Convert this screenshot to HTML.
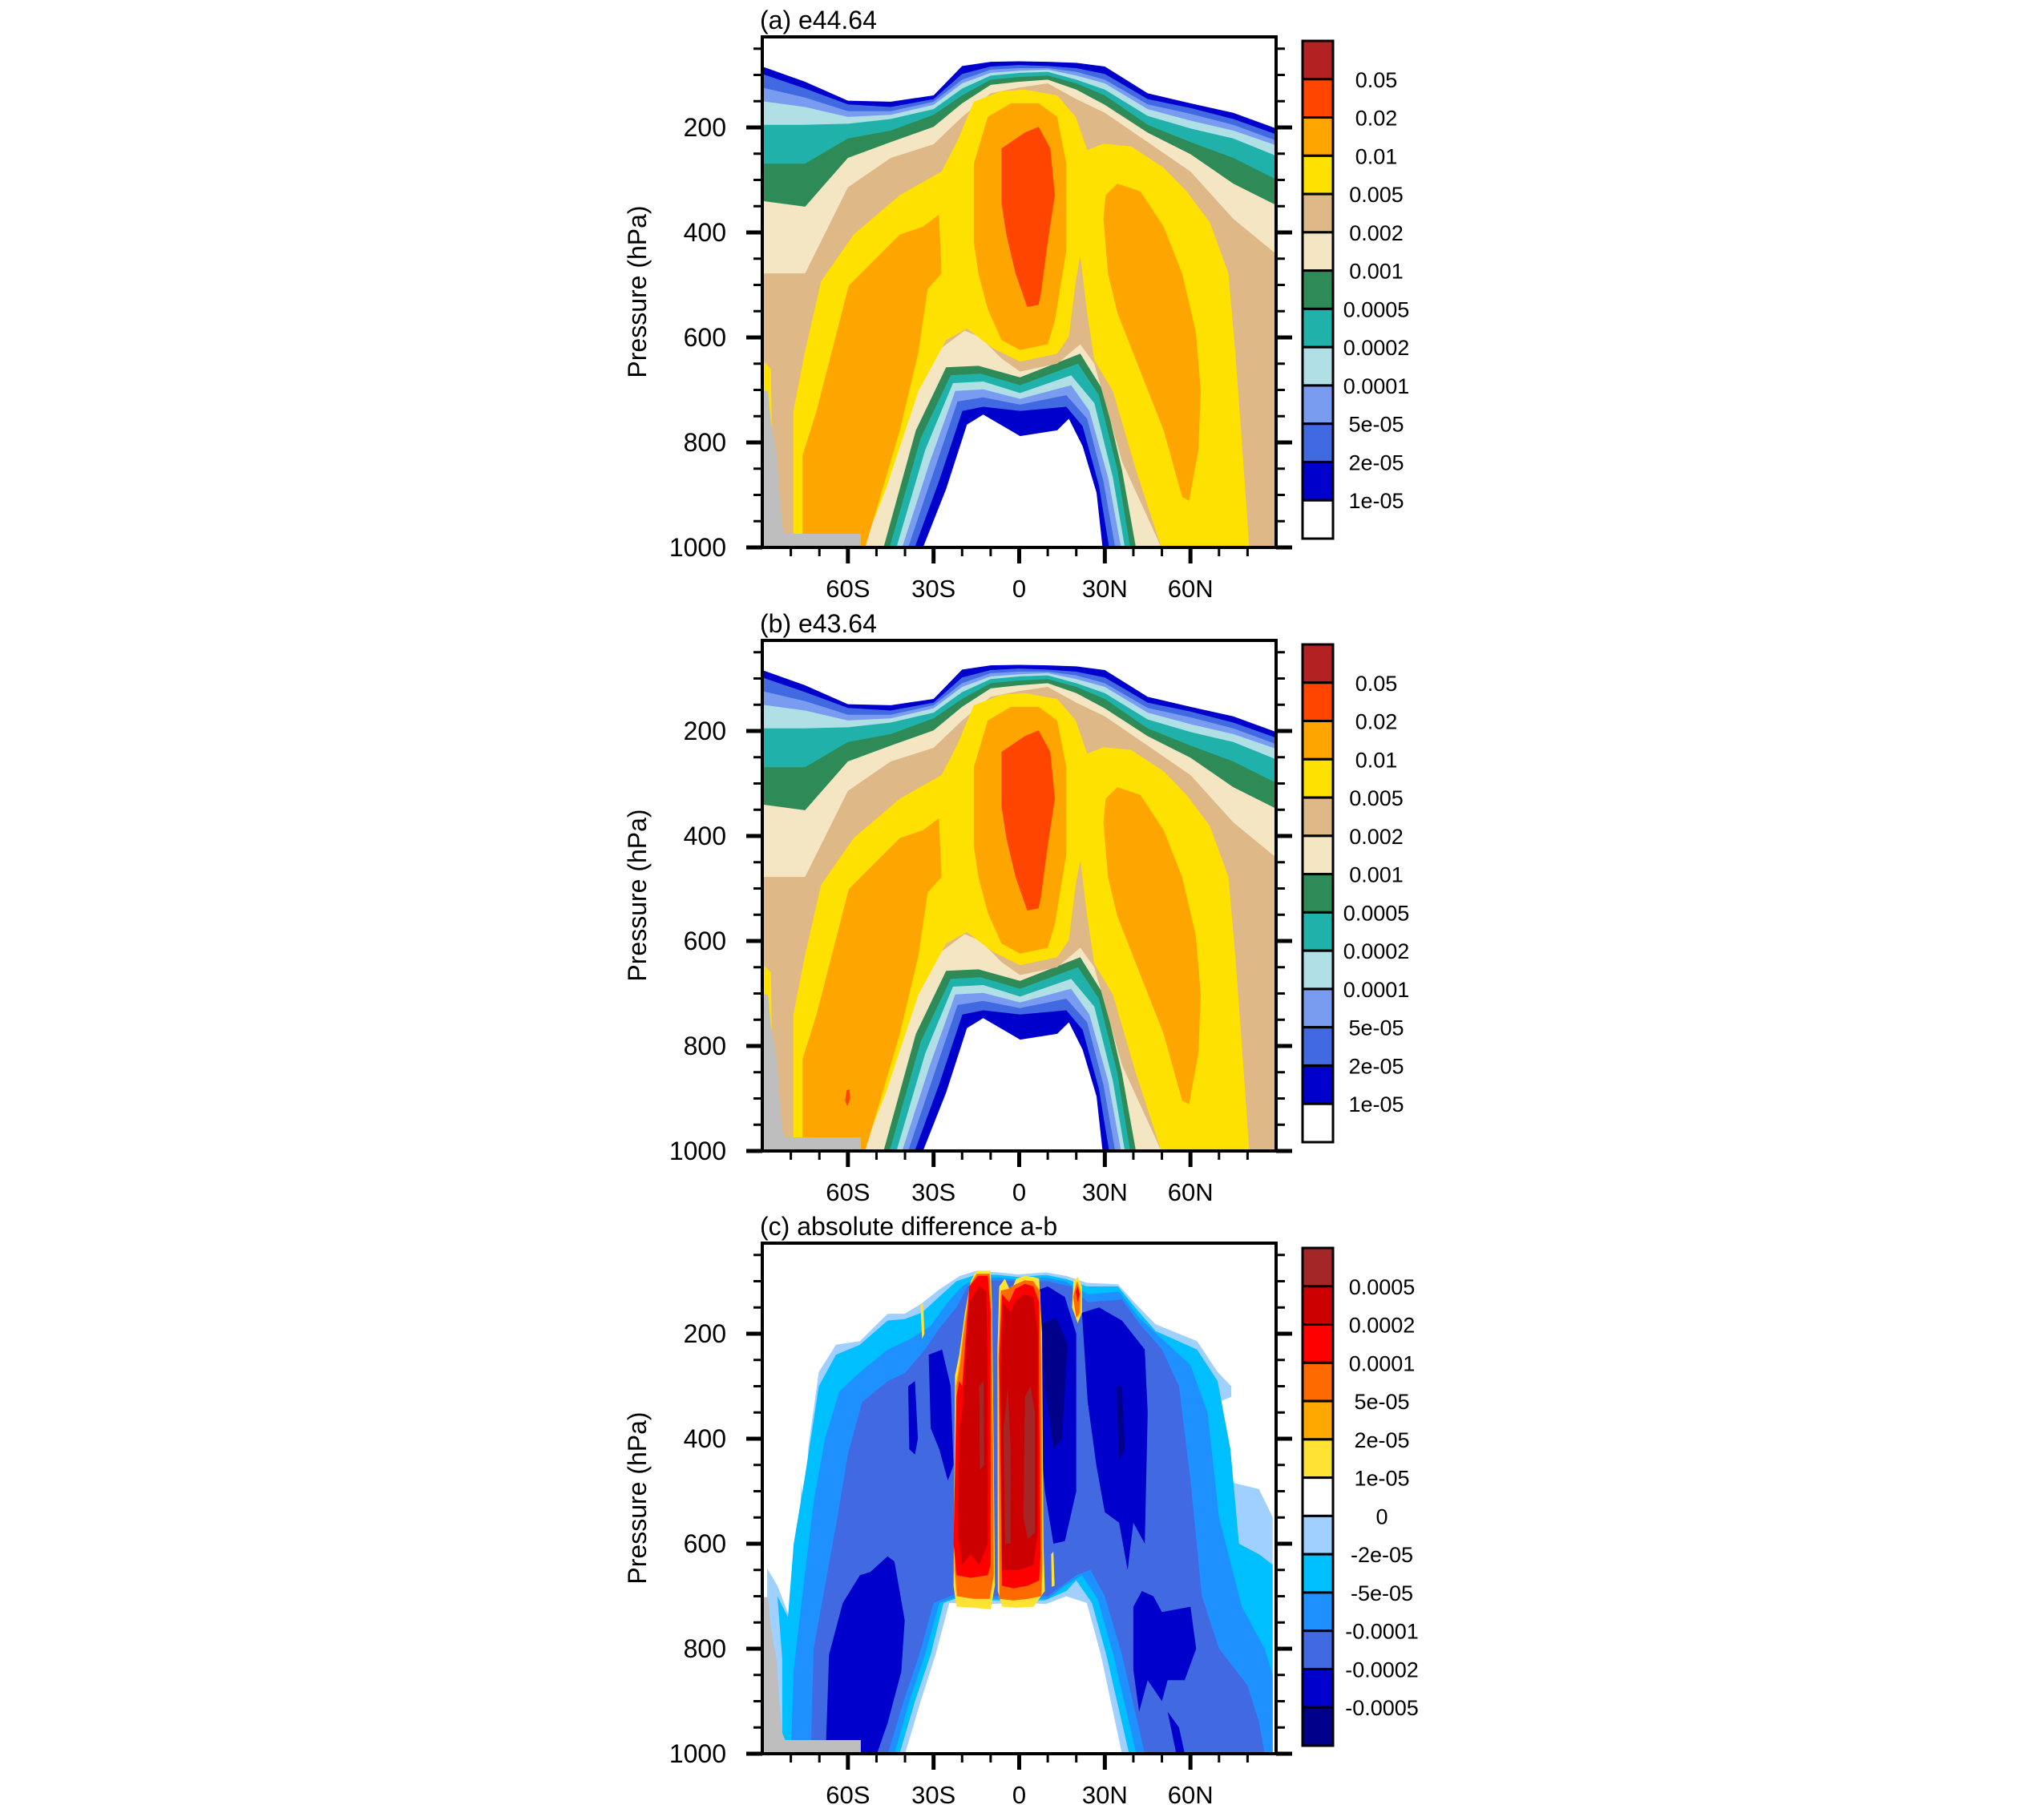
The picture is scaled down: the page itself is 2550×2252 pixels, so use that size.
<!DOCTYPE html>
<html><head><meta charset="utf-8"><style>
html,body{margin:0;padding:0;background:#fff;}
svg{display:block;font-family:"Liberation Sans",Arial,sans-serif;}
</style></head><body>
<svg id="fig" width="2550" height="2252" viewBox="0 0 2550 2252" xmlns="http://www.w3.org/2000/svg"></svg>
<script>
// ---------- data ----------
const latTicks = [-60,-30,0,30,60];
const latTickLabels = ["60S","30S","0","30N","60N"];
const pTicks = [200,400,600,800,1000];
const pTickLabels = ["200","400","600","800","1000"];
const topLats = [-90,-75,-60,-45,-30,-20,-10,0,10,20,30,45,60,75,90];
// upper boundary pressure of each level (1e-5 ... 2e-3)
const topL1 = [84,113,149,151,139,83,75,74,75,77,84,135,154,172,202];
const topL2 = [98,126,156,161,146,98,84,81,83,87,98,146,163,184,213];
const topL3 = [124,143,169,169,151,109,90,87,87,94,109,156,174,195,225];
const topL4 = [150,161,180,176,157,116,96,92,90,101,116,165,187,206,234];
const topL5 = [195,195,193,184,165,126,101,96,94,109,128,178,202,221,254];
const topL6 = [269,269,221,206,176,139,109,104,101,116,139,195,228,258,299];
const topL7 = [340,351,258,228,199,154,119,113,109,128,157,210,251,307,348];
const topL8 = [478,478,314,258,232,180,135,124,116,146,172,228,284,374,441];
// lower (tropical bowl) boundaries [lat,p]
const bowl1 = [[-33.7,1000],[-25.6,889],[-18.3,766],[-12.6,747],[0.3,788],[13.3,777],[17.4,755],[22.2,807],[27.1,896],[29.2,1000]];
const bowl2 = [[-36.6,1000],[-28.1,874],[-19.9,740],[-12.6,732],[0.3,740],[16.5,732],[22.2,769],[27.9,881],[31.5,1000]];
const bowl3 = [[-38.9,1000],[-29.7,852],[-21.6,722],[-12.6,714],[0.3,728],[16.5,710],[23.8,755],[29.5,874],[33.6,1000]];
const bowl4 = [[-41,1000],[-31.3,837],[-22.4,702],[-12.6,699],[0.3,717],[18.2,691],[24.6,740],[31.1,866],[35.7,1000]];
const bowl5 = [[-43,1000],[-32.9,814],[-23.2,687],[-12.6,684],[0.3,706],[18.2,672],[26.3,725],[32.8,866],[37,1000]];
const bowl6 = [[-45.4,1000],[-34.5,792],[-24,672],[-13.5,669],[0.3,691],[20.6,650],[27.9,710],[34.4,852],[38.9,1000]];
const bowl7 = [[-47.5,1000],[-36.2,777],[-25.6,657],[-14.3,654],[0.3,676],[21.4,631],[29.5,702],[36,852],[40.9,1000]];
const bowl8 = [[-54,1000],[-40.2,747],[-27.2,620],[-19.1,587],[-13.5,600],[-6.2,640],[0.3,665],[13.3,650],[21.4,613],[26.3,650],[36,836],[49.8,1000]];
const yellowOuter = [[-79.1,1000],[-79.1,740],[-75.1,628],[-69.4,493],[-58,404],[-41.8,329],[-27.2,284],[-21.6,225],[-15.9,151],[-6.2,131],[1.9,128],[13.3,139],[19.8,180],[23.8,243],[29.5,231],[39.2,236],[50.6,277],[58.7,322],[66.8,381],[73.3,478],[75.7,628],[78.2,814],[80.6,1000]];
const yellowBowl = [[49.8,1000],[40.9,852],[32.8,702],[26.3,643],[23.8,553],[21.4,445],[19.8,493],[17.4,598],[13.3,631],[0.3,646],[-9.4,620],[-18.3,583],[-25.6,605],[-35.3,702],[-46.7,889],[-54.8,1000]];
const yellowStrip = [[-90,643],[-87,660],[-86,1000],[-90,1000]];
const orangeLeft = [[-75.9,1000],[-75.9,825],[-71,740],[-59.7,501],[-41.8,404],[-33.7,389],[-28.1,366],[-27.2,478],[-32.1,508],[-35.3,628],[-41.8,777],[-49.9,926],[-54,1000]];
const orangeMid = [[-15.9,419],[-15.9,269],[-11,180],[-2.9,154],[6.8,154],[13.3,180],[16.5,269],[16.5,434],[12.5,568],[10,613],[0.3,624],[-6.2,605],[-11,546],[-14.3,478]];
const orangeRight = [[29.5,374],[30.3,329],[34.4,307],[42.5,322],[50.6,389],[57.1,478],[61.9,590],[63.6,702],[62.8,814],[59.5,911],[57.1,904],[50.6,777],[42.5,665],[34.4,553],[31.1,478]];
const redMid = [[-6.2,344],[-6.2,240],[1.9,210],[6.8,199],[10.9,240],[12.5,329],[10,419],[7.6,516],[6.8,538],[2.8,542],[-1.3,478],[-4.5,404]];
const redSpotB = [[-61,905],[-60.5,885],[-59.5,882],[-59.2,900],[-60.2,915]];
const missing = [[-90,702],[-88,702],[-87,760],[-85,820],[-84,900],[-83,960],[-82,974],[-55.5,974],[-55.5,1000],[-90,1000]];
// panel c difference field regions
const cLight = [[-88.3,647],[-84.7,680],[-80,746],[-78,700],[-76.3,483],[-75.1,595],[-73.9,418],[-70.2,273],[-64.2,221],[-55.8,214],[-46.1,162],[-40.1,162],[-34.1,142],[-28.1,116],[-20.8,90],[-14.8,80],[-7.6,83],[-0.4,87],[9.3,83],[16.5,90],[23.7,103],[34.6,106],[40.6,142],[47.8,182],[62.3,214],[69.5,273],[74.3,300],[74.3,320],[70,330],[72,480],[84,496],[88.8,549],[88.8,1000],[36,1000],[28.6,811],[23.7,713],[16.5,700],[9.3,715],[0,712],[-10,715],[-24.5,713],[-29.3,811],[-34.5,900],[-40,1000],[-84,1000],[-86,900],[-88.3,800]];
const cSky = [[-84.7,700],[-81,740],[-79,600],[-75.1,473],[-70.2,300],[-64.2,240],[-55.8,221],[-46.1,175],[-40.1,172],[-34.1,160],[-28.1,130],[-22,100],[-14.8,87],[-7.6,88],[0,92],[9.3,88],[16.5,96],[23.7,110],[34.6,110],[40.6,150],[47.8,195],[62.3,230],[69.5,290],[74,420],[77,600],[84,620],[88.8,640],[88.8,1000],[38.5,1000],[30.5,811],[25.5,713],[20,670],[16.5,690],[9,708],[0,708],[-10,708],[-22.5,705],[-26.5,713],[-31,811],[-36.5,900],[-41.9,1000],[-83,1000],[-83,820]];
const cDodger = [[-80,1000],[-79,840],[-76,700],[-72,520],[-68,400],[-63,310],[-55,270],[-46,230],[-38,210],[-31,185],[-25,140],[-20,110],[-15,95],[-7,93],[0,97],[9,93],[16,100],[24,125],[35,120],[42,170],[50,210],[60,260],[66,350],[70,550],[78,720],[86,800],[88.8,850],[88.8,1000],[41,1000],[33,811],[27.5,705],[22,660],[16,680],[10,705],[0,705],[-10,705],[-21,700],[-28,713],[-33,811],[-38.5,900],[-43.7,1000]];
const cRoyal = [[-73,1000],[-72,800],[-68,680],[-64,560],[-60,430],[-55,330],[-46,290],[-40,275],[-33,230],[-28,190],[-22,150],[-18,110],[-12,98],[0,100],[10,100],[18,110],[24,140],[36,135],[42,180],[50,230],[56,300],[60,480],[64,700],[70,800],[80,870],[84,940],[86,1000],[44,1000],[36,811],[30,700],[25,650],[20,660],[10,700],[0,700],[-10,700],[-22,695],[-30,713],[-35,811],[-40.5,900],[-46,1000]];
const cMedium = [
 [[-67.8,998],[-66.6,811],[-61.8,713],[-55.8,660],[-52.2,654],[-46.1,624],[-43.7,634],[-40.1,746],[-41.3,844],[-46.1,942],[-49.7,998]],
 [[-38.9,300],[-36.5,290],[-35.5,400],[-36.5,430],[-38.5,420]],
 [[-31.7,240],[-27,230],[-24,300],[-23,450],[-25,480],[-28,420],[-31,380]],
 [[5,120],[10,110],[16,130],[20,200],[20,500],[16,595],[12,600],[9,500],[6,300]],
 [[22,160],[28,150],[36,175],[44,230],[45,350],[44,600],[40,560],[38,650],[35,560],[30,540],[27,450],[24,330]],
 [[40,720],[43,690],[47,700],[50,730],[60,720],[62,800],[58,860],[52,860],[50,900],[45,860],[42,920],[40,840]],
 [[52,920],[55,1000],[58,1000],[56,950]],
 [[-2.3,190],[-1.5,175],[-0.8,200],[-0.5,300],[-1.2,320],[-2,300]]
];
const cNavy = [
 [[8,180],[13,170],[17,220],[15,400],[12,420],[9,300]],
 [[34,300],[36,300],[37,420],[35,440]]
];
const cGold = [
 [[-22.5,280],[-21,240],[-20,200],[-19,160],[-17,100],[-15,80],[-10,80],[-9.5,150],[-9,400],[-8.5,680],[-10,725],[-16,722],[-22,720],[-23,680]],
 [[-7.6,230],[-7,110],[-5,95],[-3,120],[-1,95],[2,90],[5,92],[7,95],[8,200],[8.5,600],[9,690],[5,720],[-1,722],[-6,720],[-7.5,690]],
 [[18.5,150],[19,100],[20.5,92],[22,110],[22,160],[20.5,180]],
 [[-34.6,145],[-33.6,142],[-33.2,200],[-34,210]],
 [[11.2,620],[12,615],[12.4,680],[11.4,682]]
];
const cOrange = [
 [[-22.3,300],[-21,260],[-19.5,190],[-17.2,105],[-15,86],[-10.5,86],[-9.8,160],[-9.3,420],[-9,660],[-10.5,705],[-16,705],[-22,700],[-22.8,650]],
 [[-7.3,240],[-6.5,118],[-4,115],[-2,108],[2,98],[5,100],[7.4,120],[7.8,260],[8.2,640],[7.8,700],[3,705],[-2,708],[-7,705]],
 [[19.2,130],[20.5,100],[21.6,120],[21.4,160],[20.3,170]]
];
const cRed = [
 [[-22,320],[-21,290],[-20,300],[-17.5,110],[-14.5,90],[-11,90],[-10,160],[-10,640],[-11,660],[-17,665],[-22,660],[-23,600]],
 [[-7,250],[-6,125],[-3.5,140],[-1.5,115],[2,105],[5,110],[7,140],[7,300],[7.5,620],[7,670],[3,680],[-2,685],[-6,680]],
 [[19.8,120],[20.5,110],[21.2,125],[20.5,140]]
];
const cDarkRed = [
 [[-21,380],[-20,350],[-17.5,140],[-14,110],[-11.5,120],[-11,300],[-11,600],[-14,640],[-17,620],[-20,640],[-21.5,580]],
 [[-6.5,270],[-5.5,140],[-3,160],[-1.5,140],[1.5,125],[5,130],[6.5,200],[6.5,580],[5,640],[0,650],[-6,650]]
];
const cBrown = [
 [[-5.5,380],[-4,300],[-3,420],[-3,600],[-5,600]],
 [[2,320],[4,300],[5.5,350],[5.5,580],[3,590],[1.5,550]],
 [[-14,300],[-12.5,290],[-12.3,450],[-13.8,460]]
];
const cbarLabelsAB = ["0.05","0.02","0.01","0.005","0.002","0.001","0.0005","0.0002","0.0001","5e-05","2e-05","1e-05"];
const cbarColorsAB = ["#B22222","#FF4500","#FFA500","#FFE100","#DEB887","#F5E6C3","#2E8B57","#20B2AA","#B0E0E6","#7A9CF0","#4169E1","#0000CD","#FFFFFF"];
const cbarLabelsC = ["0.0005","0.0002","0.0001","5e-05","2e-05","1e-05","0","-2e-05","-5e-05","-0.0001","-0.0002","-0.0005"];
const cbarColorsC = ["#A52626","#CC0000","#FF0000","#FF6A00","#FFA800","#FFE233","#FFFFFF","#A0D0FF","#00BFFF","#1E90FF","#4169E1","#0000CD","#00008B"];

// ---------- drawing ----------
const NS="http://www.w3.org/2000/svg";
const svg=document.getElementById('fig');
function mk(tag,attrs,parent){const e=document.createElementNS(NS,tag);for(const k in attrs)e.setAttribute(k,attrs[k]);(parent||svg).appendChild(e);return e;}
const X0=951,X1=1592,PTOP=27.5;
function xs(lat){return X0+(lat+90)/180*(X1-X0);}
function makeY(off){return p=>off+683-(1000-p)*0.655;}
function polyStr(pts,Y){return pts.map(q=>xs(q[0]).toFixed(1)+','+Y(q[1]).toFixed(1)).join(' ');}
function topBand(top,bowl,Y){
  const pts=topLats.map((l,i)=>[l,top[i]]);
  pts.push([90,1000]);
  const b=bowl.slice().sort((a,c)=>c[0]-a[0]);
  return pts.concat(b).concat([[-90,1000]]);
}
function drawPanel(off,title,isC,extraB){
  const Y=makeY(off);
  const g=mk('g',{});
  
  
  const cid='clip'+off;
  const cp=mk('clipPath',{id:cid},g);
  mk('rect',{x:X0,y:Y(PTOP),width:X1-X0,height:Y(1000)-Y(PTOP)},cp);
  const f=mk('g',{'clip-path':'url(#'+cid+')'},g);
  
  
  function P(pts,col,name){const e=mk('polygon',{points:polyStr(pts,Y),fill:col},f);
    
    }
  if(!isC){
    const tops=[topL1,topL2,topL3,topL4,topL5,topL6,topL7,topL8];
    const bowls=[bowl1,bowl2,bowl3,bowl4,bowl5,bowl6,bowl7,bowl8];
    for(let i=0;i<8;i++) P(topBand(tops[i],bowls[i],Y),cbarColorsAB[11-i],'level-'+cbarLabelsAB[11-i]);
    P(yellowOuter.concat(yellowBowl),cbarColorsAB[3],'level-0.005');
    P(yellowStrip,cbarColorsAB[3],'level-0.005-edge');
    P(orangeLeft,cbarColorsAB[2],'level-0.01-south');
    P(orangeMid,cbarColorsAB[2],'level-0.01-tropics');
    P(orangeRight,cbarColorsAB[2],'level-0.01-north');
    P(redMid,cbarColorsAB[1],'level-0.02');
    if(extraB) P(redSpotB,cbarColorsAB[1],'level-0.02-spot');
  } else {
    P(cLight,cbarColorsC[7],'diff-neg-2e-05');
    P(cSky,cbarColorsC[8],'diff-neg-5e-05');
    P(cDodger,cbarColorsC[9],'diff-neg-0.0001');
    P(cRoyal,cbarColorsC[10],'diff-neg-0.0002');
    cMedium.forEach(s=>P(s,cbarColorsC[11],'diff-neg-0.0005'));
    cNavy.forEach(s=>P(s,cbarColorsC[12],'diff-below-neg-0.0005'));
    cGold.forEach(s=>P(s,cbarColorsC[5],'diff-pos-1e-05'));
    cOrange.forEach(s=>P(s,cbarColorsC[4],'diff-pos-2e-05'));
    cOrange.forEach(s=>P(s.map(q=>[q[0]*0.985,q[1]]),cbarColorsC[3],'diff-pos-5e-05'));
    cRed.forEach(s=>P(s,cbarColorsC[2],'diff-pos-0.0001'));
    cDarkRed.forEach(s=>P(s,cbarColorsC[1],'diff-pos-0.0002'));
    cBrown.forEach(s=>P(s,cbarColorsC[0],'diff-pos-0.0005'));
  }
  P(missing,'#BEBEBE','missing-data');
  // frame
  const fr=mk('rect',{x:X0,y:Y(PTOP),width:X1-X0,height:Y(1000)-Y(PTOP),fill:'none',stroke:'#000','stroke-width':4},g);
  
  
  // y ticks
  for(let p=50;p<=1000;p+=50){
    const maj=pTicks.includes(p); const L=maj?20:11;
    mk('line',{x1:X0-L,y1:Y(p),x2:X0,y2:Y(p),stroke:'#000','stroke-width':maj?5:3},g);
    mk('line',{x1:X1,y1:Y(p),x2:X1+L,y2:Y(p),stroke:'#000','stroke-width':maj?5:3},g);
  }
  pTicks.forEach((p,i)=>{const t=mk('text',{x:906,y:Y(p)+11,'text-anchor':'end','font-size':32},g);t.textContent=pTickLabels[i];
    
    });
  // x ticks
  for(let l=-80;l<=80;l+=10){
    const maj=latTicks.includes(l); const L=maj?20:11;
    mk('line',{x1:xs(l),y1:Y(1000),x2:xs(l),y2:Y(1000)+L,stroke:'#000','stroke-width':maj?5:3},g);
  }
  latTicks.forEach((l,i)=>{const t=mk('text',{x:xs(l),y:Y(1000)+62,'text-anchor':'middle','font-size':31},g);t.textContent=latTickLabels[i];
    
    });
  // titles
  const tt=mk('text',{x:948,y:off+36,'font-size':32},g);tt.textContent=title;
  
  
  const yl=mk('text',{x:0,y:0,'font-size':32,'text-anchor':'middle',transform:'translate(806,'+(off+364)+') rotate(-90)'},g);yl.textContent='Pressure (hPa)';
  
  
  // colorbar
  const cols=isC?cbarColorsC:cbarColorsAB, labs=isC?cbarLabelsC:cbarLabelsAB;
  const cb=mk('g',{},g);
  
  
  const cTop=isC?off+52:off+51, cBot=isC?off+673:off+672;
  const h=(cBot-cTop)/cols.length;
  cols.forEach((c,i)=>{const r=mk('rect',{x:1625,y:cTop+i*h,width:38,height:h,fill:c,stroke:'#000','stroke-width':3},cb);
    
    });
  labs.forEach((s,i)=>{const t=mk('text',{x:isC?1724:1717,y:cTop+(i+1)*h+10,'text-anchor':'middle','font-size':27},cb);t.textContent=s;
    
    });
}
drawPanel(0,'(a) e44.64',false,false);
drawPanel(753,'(b) e43.64',false,true);
drawPanel(1505,'(c) absolute difference a-b',true,false);
</script>
</body></html>
